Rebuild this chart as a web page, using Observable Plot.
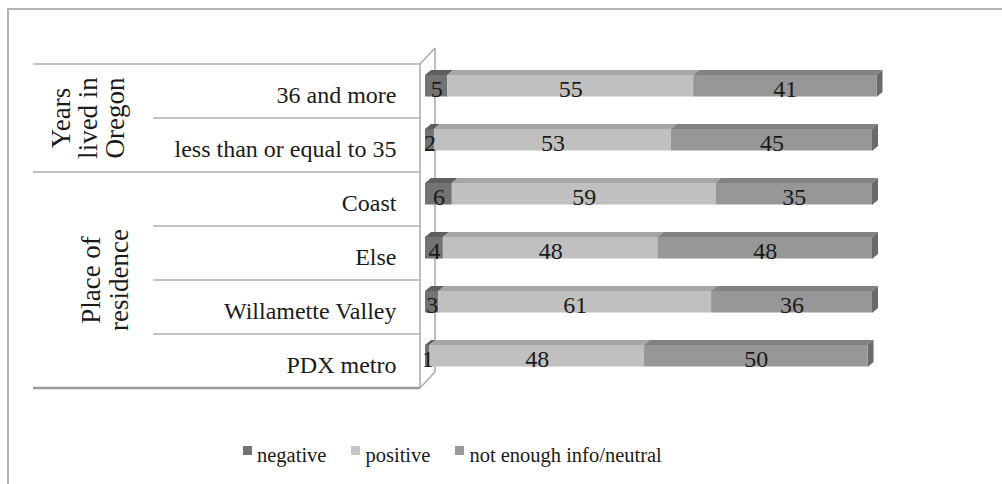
<!DOCTYPE html>
<html><head><meta charset="utf-8">
<script src="https://cdn.jsdelivr.net/npm/d3@7"></script>
<script src="https://cdn.jsdelivr.net/npm/@observablehq/plot@0.6"></script>
<style>
body{margin:0;background:#fff;}
#wrap{position:relative;width:1002px;height:484px;overflow:hidden;background:#fff;}
#chart{position:absolute;left:0;top:0;}
#frame{position:absolute;left:7px;top:8px;width:1100px;height:600px;border-left:2px solid #b4b4b4;border-top:2px solid #b4b4b4;pointer-events:none;}
#legend{position:absolute;top:443px;left:243px;font-family:"Liberation Serif",serif;font-size:20.5px;line-height:24px;color:#1a1a1a;display:flex;white-space:nowrap;}
#legend .item{display:flex;align-items:flex-start;margin-right:25px;}
#legend .sw{width:9px;height:9px;margin-top:3px;margin-right:5px;}
</style>
</head><body>
<div id="wrap"><div id="chart"></div><div id="frame"></div><div id="legend"></div></div>
<script>
// ---- data ----
const categories = ["36 and more", "less than or equal to 35", "Coast", "Else", "Willamette Valley", "PDX metro"];
const groupOf = [0, 0, 1, 1, 1, 1];
const groupLabels = [["Years", "lived in", "Oregon"], ["Place of", "residence"]];
const series = ["negative", "positive", "not enough info/neutral"];
const negative = [5, 2, 6, 4, 3, 1];
const positive = [55, 53, 59, 48, 61, 48];
const neutral = [41, 45, 35, 48, 36, 50];

// ---- styles ----
const frontColors = ["#737373", "#c0c0c0", "#979797"];
const topColors = ["#5f5f5f", "#a6a6a6", "#828282"];
const sideColor = "#6a6a6a";
const legendColors = ["#737373", "#c6c6c6", "#999999"];
const lineColor = "#adadad";
const barInsetTop = 11, barHeight = 22, depthX = 6, depthY = 5;

const valuesBySeries = [negative, positive, neutral];
const rows = categories.flatMap((c, i) => series.map((s, j) => ({cat: c, series: s, value: valuesBySeries[j][i]})));

const svgNS = "http://www.w3.org/2000/svg";
function el(name, attrs) {
  const e = document.createElementNS(svgNS, name);
  for (const k in attrs) e.setAttribute(k, attrs[k]);
  return e;
}
function bw(s) { return typeof s.bandwidth === "function" ? s.bandwidth() : s.bandwidth; }

// table lines, 3D walls and group labels
function tableMark(index, scales) {
  const x = scales.x, y = scales.y, b = bw(y);
  const g = el("g", {});
  const x0 = x(0);
  const wallFront = x0 - 5, wallBack = x0 + 10;
  const top = y(categories[0]), bottom = y(categories[categories.length - 1]) + b;
  // horizontal separators
  for (let i = 0; i <= categories.length; i++) {
    const yy = i < categories.length ? y(categories[i]) : bottom;
    const isGroupEdge = i === 0 || i === categories.length || groupOf[i] !== groupOf[i - 1];
    g.appendChild(el("line", {x1: isGroupEdge ? 33 : 153, x2: wallFront, y1: yy, y2: yy,
      stroke: i === categories.length ? "#9a9a9a" : lineColor, "stroke-width": i === categories.length ? 2.5 : 1.6}));
  }
  // walls
  g.appendChild(el("line", {x1: wallFront, x2: wallFront, y1: top, y2: bottom, stroke: lineColor, "stroke-width": 1.6}));
  g.appendChild(el("line", {x1: wallFront, x2: wallBack, y1: top, y2: top - 16, stroke: lineColor, "stroke-width": 1.6}));
  g.appendChild(el("line", {x1: wallBack, x2: wallBack, y1: top - 16, y2: bottom - 16, stroke: lineColor, "stroke-width": 1.6}));
  g.appendChild(el("line", {x1: wallFront, x2: wallBack, y1: bottom, y2: bottom - 16, stroke: lineColor, "stroke-width": 1.6}));
  // group labels (rotated)
  const baselines = [[70, 97, 124], [100, 128]];
  groupLabels.forEach((lines, gi) => {
    const cats = categories.filter((c, i) => groupOf[i] === gi);
    const yc = (y(cats[0]) + y(cats[cats.length - 1]) + b) / 2;
    lines.forEach((t, li) => {
      const tx = el("text", {transform: `translate(${baselines[gi][li]},${yc}) rotate(-90)`, "text-anchor": "middle",
        "font-family": "Liberation Serif", "font-size": 27, fill: "#1a1a1a"});
      tx.textContent = t;
      g.appendChild(tx);
    });
  });
  return g;
}

// 3D top and side faces of the stacked bars
function facesMark(index, scales) {
  const x = scales.x, y = scales.y;
  const g = el("g", {});
  categories.forEach((c, i) => {
    let cum = 0;
    const t = y(c) + barInsetTop;
    series.forEach((s, j) => {
      const v = valuesBySeries[j][i];
      const x1 = x(cum), x2 = x(cum + v);
      cum += v;
      g.appendChild(el("polygon", {points: `${x1},${t} ${x1 + depthX},${t - depthY} ${x2 + depthX},${t - depthY} ${x2},${t}`, fill: topColors[j]}));
      if (j === series.length - 1) {
        g.appendChild(el("polygon", {points: `${x2},${t} ${x2 + depthX},${t - depthY} ${x2 + depthX},${t + barHeight - depthY} ${x2},${t + barHeight}`, fill: sideColor}));
      }
    });
  });
  return g;
}

const chart = Plot.plot({
  width: 1002, height: 484,
  marginLeft: 425, marginRight: 130, marginTop: 62, marginBottom: 95,
  x: {domain: [0, 100], axis: null},
  y: {domain: categories, axis: null, padding: 0},
  color: {domain: series, range: frontColors},
  style: {fontFamily: "Liberation Serif", background: "transparent", overflow: "visible"},
  marks: [
    tableMark,
    facesMark,
    Plot.barX(rows, Plot.stackX({x: "value", y: "cat", fill: "series", insetTop: barInsetTop, insetBottom: 54.5 - barInsetTop - barHeight})),
    Plot.text(rows, Plot.stackX({x: "value", y: "cat", text: d => String(d.value), fontSize: 24, fill: "#1a1a1a", dy: -2})),
    Plot.text(categories, {y: d => d, frameAnchor: "left", dx: -29, dy: 3.5, textAnchor: "end", fontSize: 24, fill: "#1a1a1a"})
  ]
});
document.getElementById("chart").appendChild(chart);

// legend
const legend = document.getElementById("legend");
series.forEach((s, j) => {
  const item = document.createElement("div"); item.className = "item";
  const sw = document.createElement("div"); sw.className = "sw"; sw.style.background = legendColors[j];
  const tx = document.createElement("span"); tx.textContent = s;
  item.appendChild(sw); item.appendChild(tx); legend.appendChild(item);
});
</script>
</body></html>
